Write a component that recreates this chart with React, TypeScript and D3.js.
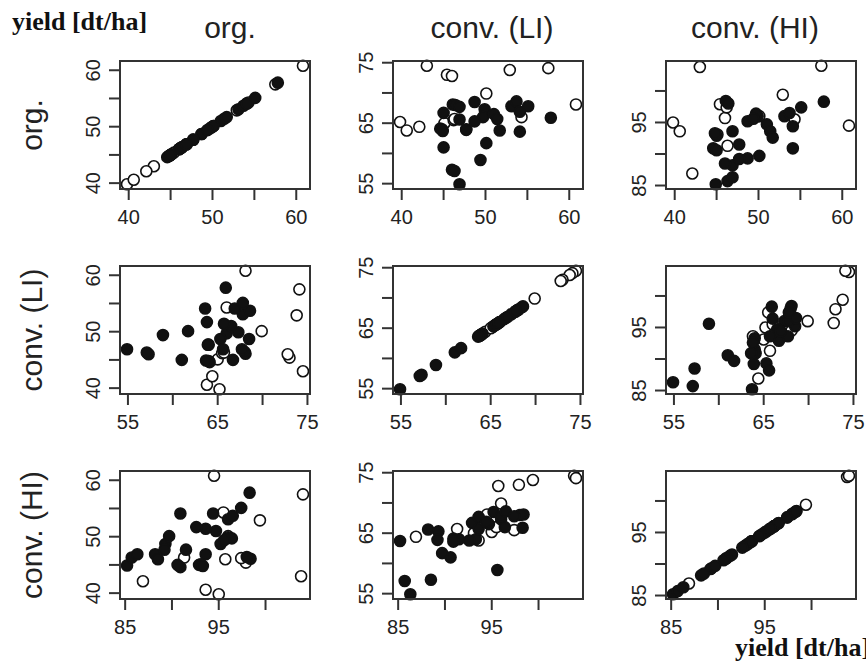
import React, { useRef, useEffect } from 'react';
import * as d3 from 'd3';

// variable names for rows / columns
const varNames = ['org.', 'conv. (LI)', 'conv. (HI)'];

// yield [dt/ha] per site (open sites first, then filled)
const yieldOrg = [
  43.0, 57.5, 52.9, 45.4, 46.0, 50.1, 60.8, 39.8, 40.6, 42.1, 45.1, 46.2, 54.3, 46.3,
  45.0, 46.1, 46.4, 46.9, 48.7, 49.9, 49.7, 48.7, 46.9, 47.7, 47.7, 44.6, 44.8, 44.9,
  51.0, 51.4, 51.7, 53.1, 53.7, 54.1, 55.1, 54.1, 57.8, 45.0, 50.1, 49.4, 46.0, 46.3, 46.9,
];
const yieldLI = [
  74.5, 74.1, 73.8, 73.0, 72.8, 69.9, 68.1, 65.2, 63.8, 64.4, 65.0, 65.5, 66.0, 65.7,
  66.7, 68.1, 68.0, 67.7, 68.5, 67.3, 66.0, 65.3, 65.6, 63.9, 64.0, 64.1, 64.0, 63.7,
  66.5, 65.7, 63.8, 67.8, 68.6, 66.9, 67.8, 63.6, 65.9, 61.0, 61.7, 58.9, 57.3, 57.1, 54.9,
];
const yieldHI = [
  103.8, 104.0, 99.4, 97.9, 95.7, 96.0, 94.5, 95.0, 93.6, 86.9, 93.1, 97.4, 95.5, 91.3,
  92.9, 98.4, 98.0, 93.6, 95.2, 96.0, 96.4, 89.3, 88.2, 89.2, 91.5, 90.9, 93.3, 85.2,
  94.7, 93.6, 92.6, 96.0, 96.5, 94.4, 97.4, 90.9, 98.3, 90.6, 89.7, 95.6, 88.5, 85.7, 86.3,
];
const isFilled = [
  0, 0, 0, 0, 0, 0, 0, 0, 0, 0, 0, 0, 0, 0,
  1, 1, 1, 1, 1, 1, 1, 1, 1, 1, 1, 1, 1, 1,
  1, 1, 1, 1, 1, 1, 1, 1, 1, 1, 1, 1, 1, 1, 1,
];

const colTitleX = [230, 492, 755];

const App = () => {
  const svgRef = useRef<SVGSVGElement>(null);

  useEffect(() => {
    const svg = d3.select(svgRef.current);
    svg.selectAll('*').remove();

    const font = 'Liberation Sans, Arial, sans-serif';
    const ink = '#222';
    const cols = [120, 393, 666];
    const rows = [61, 266, 471];
    const pw = 190;
    const ph = 128;

    const series = [yieldOrg, yieldLI, yieldHI];
    // R style axis range: data extent stretched by 4%
    const domains = series.map((arr) => {
      const [lo, hi] = d3.extent(arr) as [number, number];
      const pad = (hi - lo) * 0.04;
      return [lo - pad, hi + pad];
    });

    const data = yieldOrg.map((v, i) => ({
      vals: [v, yieldLI[i], yieldHI[i]],
      filled: isFilled[i] === 1,
    }));

    svg.append('rect').attr('width', 866).attr('height', 668).attr('fill', '#fff');

    for (let r = 0; r < 3; r++) {
      for (let c = 0; c < 3; c++) {
        const x0 = cols[c];
        const y0 = rows[r];
        // x shows the row variable, y the column variable
        const xScale = d3.scaleLinear().domain(domains[r]).range([x0, x0 + pw]);
        const yScale = d3.scaleLinear().domain(domains[c]).range([y0 + ph, y0]);
        const g = svg.append('g');

        g.selectAll('circle')
          .data(data)
          .enter()
          .append('circle')
          .attr('cx', (d) => xScale(d.vals[r]))
          .attr('cy', (d) => yScale(d.vals[c]))
          .attr('r', 5.5)
          .attr('fill', (d) => (d.filled ? '#111' : '#fff'))
          .attr('stroke', '#111')
          .attr('stroke-width', 1.6);

        g.append('rect')
          .attr('x', x0)
          .attr('y', y0)
          .attr('width', pw)
          .attr('height', ph)
          .attr('fill', 'none')
          .attr('stroke', '#333')
          .attr('stroke-width', 2);

        const xt = xScale.ticks(4);
        xt.forEach((t, i) => {
          const x = xScale(t);
          g.append('line')
            .attr('x1', x).attr('x2', x)
            .attr('y1', y0 + ph).attr('y2', y0 + ph + 11)
            .attr('stroke', '#333').attr('stroke-width', 2);
          if (i % 2 === 0) {
            g.append('text')
              .attr('x', x)
              .attr('y', y0 + ph + 35)
              .attr('text-anchor', 'middle')
              .attr('font-family', font)
              .attr('font-size', 20)
              .attr('fill', ink)
              .text(t);
          }
        });

        const yt = yScale.ticks(4);
        yt.forEach((t, i) => {
          const y = yScale(t);
          g.append('line')
            .attr('x1', x0 - 11).attr('x2', x0)
            .attr('y1', y).attr('y2', y)
            .attr('stroke', '#333').attr('stroke-width', 2);
          if (i % 2 === 0) {
            g.append('text')
              .attr('transform', `translate(${x0 - 20},${y}) rotate(-90)`)
              .attr('text-anchor', 'middle')
              .attr('font-family', font)
              .attr('font-size', 20)
              .attr('fill', ink)
              .text(t);
          }
        });
      }
    }

    // column titles
    varNames.forEach((name, c) => {
      svg.append('text')
        .attr('x', colTitleX[c])
        .attr('y', 38)
        .attr('text-anchor', 'middle')
        .attr('font-family', font)
        .attr('font-size', 30)
        .attr('fill', ink)
        .text(name);
    });

    // row titles
    varNames.forEach((name, r) => {
      svg.append('text')
        .attr('transform', `translate(42,${rows[r] + ph / 2}) rotate(-90)`)
        .attr('text-anchor', 'middle')
        .attr('font-family', font)
        .attr('font-size', 30)
        .attr('fill', ink)
        .text(name);
    });

    svg.append('text')
      .attr('x', 12)
      .attr('y', 30)
      .attr('font-family', 'Liberation Serif, Times New Roman, serif')
      .attr('font-weight', 'bold')
      .attr('font-size', 26)
      .attr('fill', '#111')
      .text('yield [dt/ha]');

    svg.append('text')
      .attr('x', 735)
      .attr('y', 656)
      .attr('font-family', 'Liberation Serif, Times New Roman, serif')
      .attr('font-weight', 'bold')
      .attr('font-size', 26)
      .attr('fill', '#111')
      .text('yield [dt/ha]');
  }, []);

  return (
    <svg
      ref={svgRef}
      width={866}
      height={668}
      style={{ position: 'absolute', left: 0, top: 0, display: 'block' }}
    />
  );
};

export default App;
